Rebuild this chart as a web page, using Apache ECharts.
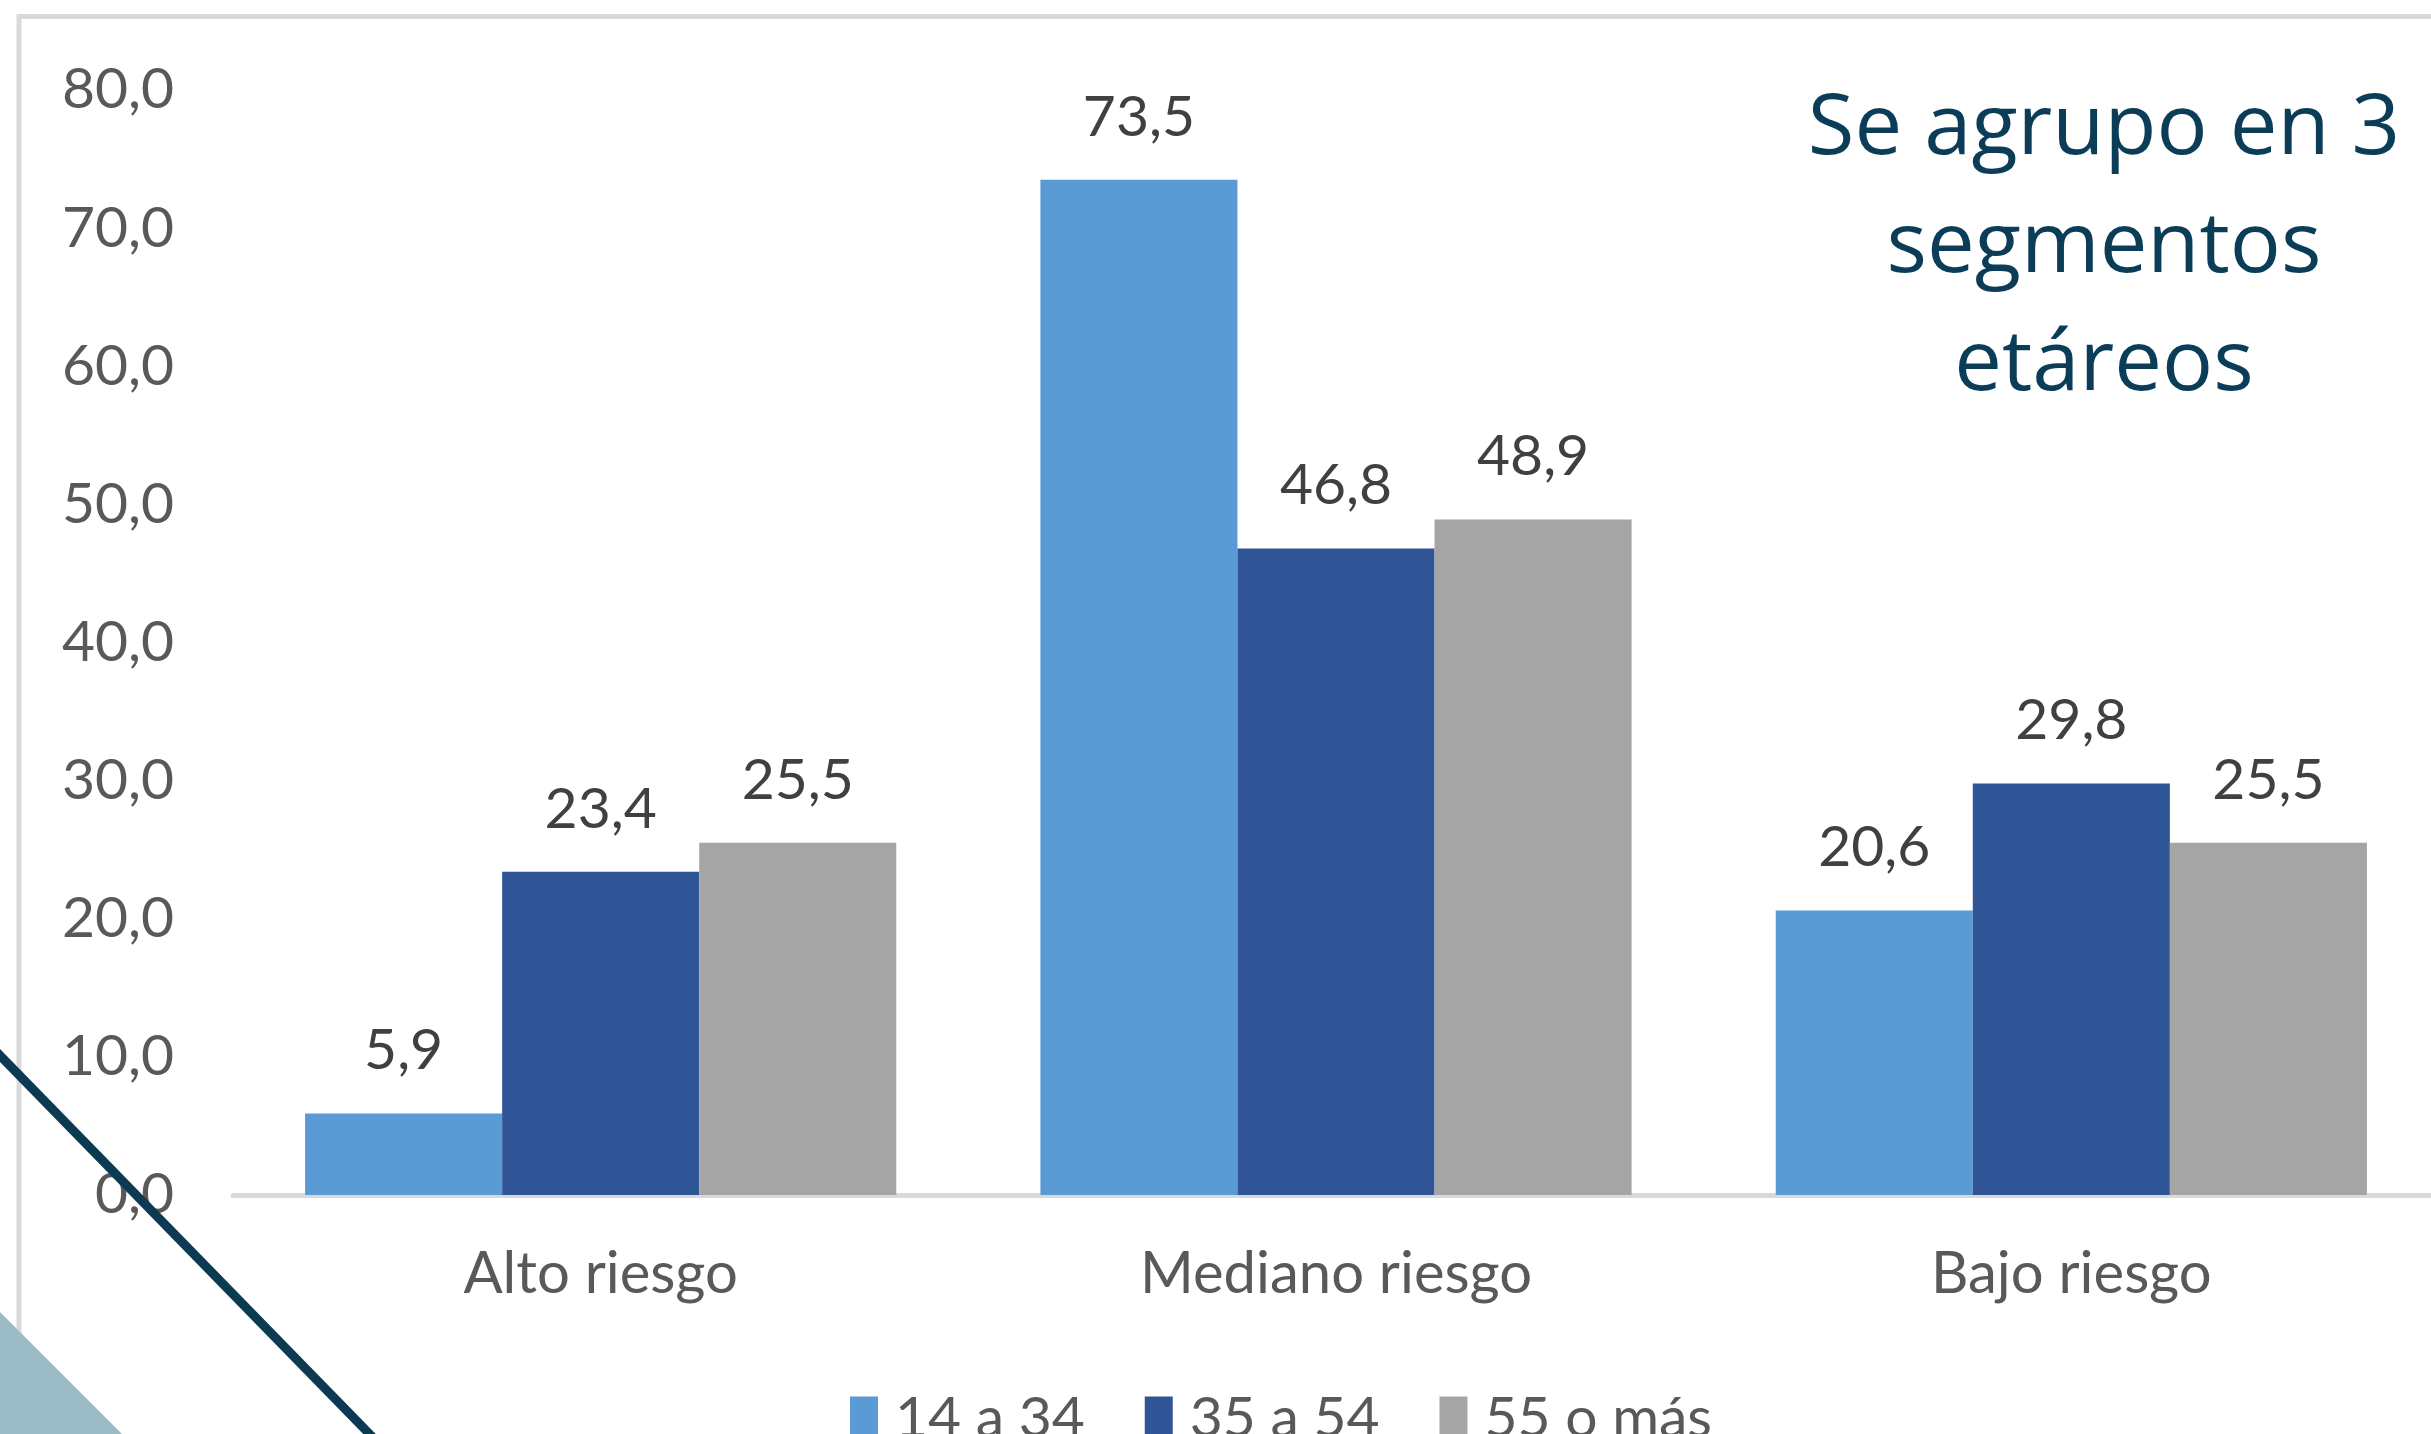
<!DOCTYPE html>
<html>
<head>
<meta charset="utf-8">
<script src="https://cdn.jsdelivr.net/npm/echarts@6/dist/echarts.min.js"></script>
<style>
html,body{margin:0;padding:0;background:#fff;overflow:hidden;}
#chart{width:2450px;height:1434px;}
</style>
</head>
<body>
<div id="chart"></div>
<script>
const categories = ['Alto riesgo', 'Mediano riesgo', 'Bajo riesgo'];
const seriesNames = ['14 a 34', '35 a 54', '55 o más'];
const values14a34 = [5.9, 73.5, 20.6];
const values35a54 = [23.4, 46.8, 29.8];
const values55omas = [25.5, 48.9, 25.5];
const yTicks = [0, 10, 20, 30, 40, 50, 60, 70, 80];
const titleLines = ['Se agrupo en 3', 'segmentos', 'etáreos'];

const colors = ['#5B9BD5', '#2F5597', '#A5A5A5'];
const fmt = v => Number(v).toFixed(1).replace('.', ',');
const seriesData = [values14a34, values35a54, values55omas];

const chart = echarts.init(document.getElementById('chart'), null, {renderer: 'canvas'});
chart.setOption({
  animation: false,
  backgroundColor: '#ffffff',
  textStyle: {fontFamily: 'Lato'},
  grid: {left: 233, width: 2206, top: 90, bottom: 239, containLabel: false},
  legend: {
    data: seriesNames,
    left: 850,
    top: 1390,
    padding: 0,
    itemWidth: 28,
    itemHeight: 44,
    itemGap: 60,
    icon: 'rect',
    textStyle: {fontFamily: 'Lato', fontSize: 57, color: '#595959', padding: [0, 0, 30, 12]}
  },
  xAxis: {
    type: 'category',
    data: categories,
    axisLine: {show: true, lineStyle: {color: '#D9D9D9', width: 5}},
    axisTick: {show: false},
    axisLabel: {fontFamily: 'Lato', fontSize: 58, color: '#595959', margin: 50}
  },
  yAxis: {
    type: 'value',
    min: yTicks[0],
    max: yTicks[yTicks.length - 1],
    interval: yTicks[1] - yTicks[0],
    axisLine: {show: false},
    axisTick: {show: false},
    splitLine: {show: false},
    axisLabel: {fontFamily: 'Lato', fontSize: 57, color: '#595959', margin: 59, formatter: v => fmt(v)}
  },
  series: seriesNames.map((name, i) => ({
    name: name,
    type: 'bar',
    data: seriesData[i],
    barGap: '0%',
    barCategoryGap: '19.6%',
    itemStyle: {color: colors[i]},
    label: {
      show: true,
      position: 'top',
      distance: 34,
      fontFamily: 'Lato',
      fontSize: 57,
      color: '#404040',
      formatter: p => fmt(p.value)
    }
  })),
  graphic: [
    {
      type: 'rect',
      z: 1,
      shape: {x: 19, y: 16.5, width: 3000, height: 3000},
      style: {fill: 'none', stroke: '#D9D9D9', lineWidth: 5}
    },
    {
      type: 'polygon',
      z: 50,
      shape: {points: [[0, 1312], [122, 1434], [0, 1434]]},
      style: {fill: '#9BBBC7'}
    },
    {
      type: 'line',
      z: 60,
      shape: {x1: -20, y1: 1035, x2: 390, y2: 1455},
      style: {stroke: '#0B3A52', lineWidth: 9}
    },
    {
      type: 'text',
      z: 60,
      x: 2104,
      y: 71,
      style: {
        text: titleLines.join('\n'),
        fontFamily: 'Open Sans',
        fontSize: 85,
        lineHeight: 118,
        fill: '#0B3D58',
        align: 'center',
        verticalAlign: 'top'
      }
    }
  ]
});
</script>
</body>
</html>
